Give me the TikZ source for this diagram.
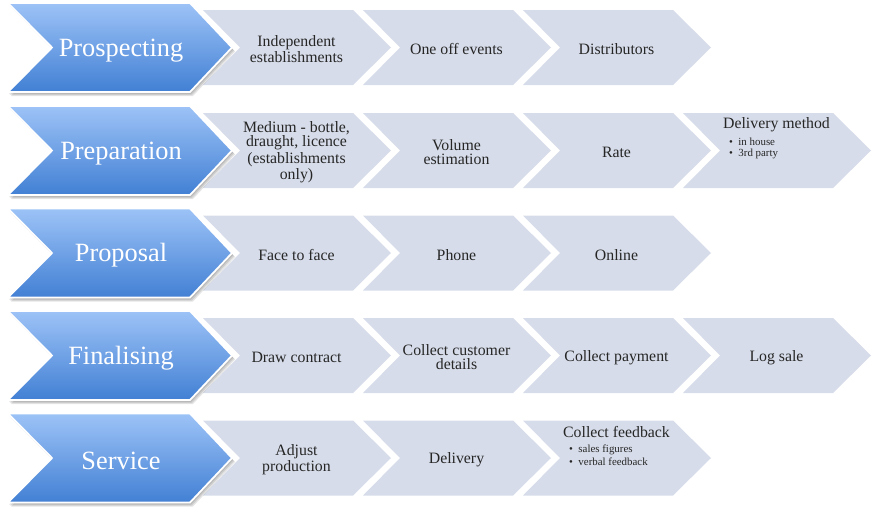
\documentclass[tikz,border=0pt]{standalone}
\usepackage{fontspec}
\setmainfont{Liberation Serif}
\definecolor{bluetop}{RGB}{157,195,247}
\definecolor{bluebot}{RGB}{66,128,212}
\definecolor{steplight}{RGB}{214,220,233}
\begin{document}
\begin{tikzpicture}[x=0.02cm,y=-0.02cm,
  stage/.style={text=white,yshift=-1.5pt,font=\fontsize{15}{16}\selectfont},
  task/.style={text=black!85,align=center,yshift=-1pt,font=\fontsize{9}{8}\selectfont},
  sub/.style={text=black!85,anchor=west,font=\fontsize{6.2}{7}\selectfont}]
\useasboundingbox (0,0) rectangle (873,514);

% grey chevrons
\foreach \cy/\n in {47.5/2,150.5/3,253/2,355.5/3,458/2}
  \foreach \k in {0,...,\n}
    \fill[steplight] ({203+160*\k},{\cy-37.5}) -- ++(150,0) -- ++(38,37.5) -- ++(-38,37.5) -- ++(-150,0) -- ++(37,-37.5) -- cycle;

% blue chevrons with shadow
\foreach \cy in {47.5,150.5,253,355.5,458} {
  \foreach \s in {1,2,3}
    \fill[black,opacity=0.1,shift={(\s,\s+1)}] (8,{\cy-44.5}) -- ++(182,0) -- ++(42,44.5) -- ++(-42,44.5) -- ++(-182,0) -- ++(44,-44.5) -- cycle;
  \draw[white,line width=1pt,top color=bluetop,bottom color=bluebot] (8,{\cy-44.5}) -- ++(182,0) -- ++(42,44.5) -- ++(-42,44.5) -- ++(-182,0) -- ++(44,-44.5) -- cycle;
}

\node[stage] (prosp) at (121,47.5) {Prospecting};
\node[stage] (prep) at (121,150.5) {Preparation};
\node[stage] (prop) at (121,253) {Proposal};
\node[stage] (final) at (121,355.5) {Finalising};
\node[stage] (serv) at (121,458) {Service};

\node[task] (indep) at (296.5,47.5) {Independent\\establishments};
\node[task] (events) at (456.5,47.5) {One off events};
\node[task] (distr) at (616.5,47.5) {Distributors};

\node[task] (medium) at (296.5,150.5) {Medium - bottle,\\draught, licence\\(establishments\\only)};
\node[task] (volume) at (456.5,150.5) {Volume\\estimation};
\node[task] (rate) at (616.5,150.5) {Rate};
\node[task] (deliv) at (776.5,123) {Delivery method};
\node[sub] (house) at (723,142) {\textbullet\ \ in house};
\node[sub] (party) at (723,154) {\textbullet\ \ 3rd party};

\node[task] (face) at (296.5,253) {Face to face};
\node[task] (phone) at (456.5,253) {Phone};
\node[task] (online) at (616.5,253) {Online};

\node[task] (contract) at (296.5,355.5) {Draw contract};
\node[task] (details) at (456.5,355.5) {Collect customer\\details};
\node[task] (payment) at (616.5,355.5) {Collect payment};
\node[task] (log) at (776.5,355.5) {Log sale};

\node[task] (adjust) at (296.5,458) {Adjust\\production};
\node[task] (delivery) at (456.5,458) {Delivery};
\node[task] (feedb) at (616.5,430) {Collect feedback};
\node[sub] (figures) at (563,449.5) {\textbullet\ \ sales figures};
\node[sub] (verbal) at (563,461.5) {\textbullet\ \ verbal feedback};
\end{tikzpicture}
\end{document}
